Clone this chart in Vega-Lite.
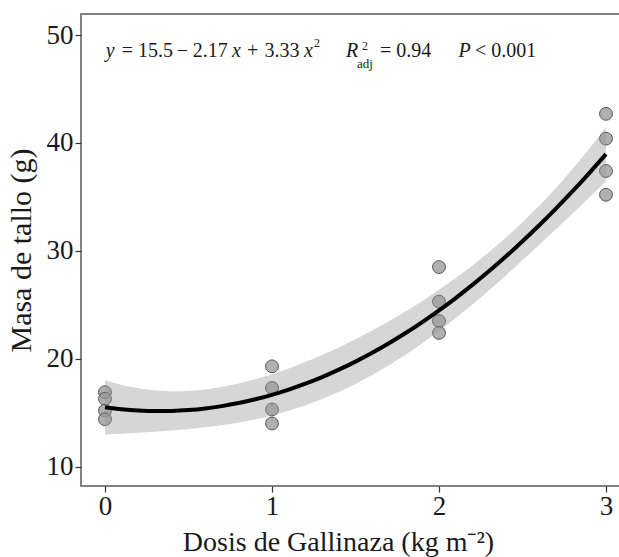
{
  "$schema": "https://vega.github.io/schema/vega-lite/v6.json",
  "autosize": {"type": "none"},
  "padding": {"left": 81, "top": 14, "right": 0, "bottom": 71},
  "width": 540,
  "height": 472,
  "background": "white",
  "config": {
    "font": "Liberation Serif",
    "view": {"stroke": "#595959", "strokeWidth": 1.5},
    "axis": {
      "grid": false,
      "domain": false,
      "tickColor": "#333333",
      "tickWidth": 1.2,
      "tickSize": 6,
      "labelFont": "Liberation Serif",
      "titleFont": "Liberation Serif",
      "labelColor": "#1a1a1a",
      "titleColor": "#1a1a1a",
      "titleFontWeight": "normal"
    }
  },
  "datasets": {
    "pts": [
      {"x": 0, "y": 16.9}, {"x": 0, "y": 16.3}, {"x": 0, "y": 15.2}, {"x": 0, "y": 14.4},
      {"x": 1, "y": 19.3}, {"x": 1, "y": 17.3}, {"x": 1, "y": 15.3}, {"x": 1, "y": 14.0},
      {"x": 2, "y": 28.5}, {"x": 2, "y": 25.3}, {"x": 2, "y": 23.5}, {"x": 2, "y": 22.4},
      {"x": 3, "y": 42.7}, {"x": 3, "y": 40.4}, {"x": 3, "y": 37.4}, {"x": 3, "y": 35.2}
    ],
    "fit": [
      {"x": 0.0, "fit": 15.5, "lo": 12.985, "hi": 18.015},
      {"x": 0.1, "fit": 15.316, "lo": 13.054, "hi": 17.578},
      {"x": 0.2, "fit": 15.199, "lo": 13.14, "hi": 17.258},
      {"x": 0.3, "fit": 15.149, "lo": 13.24, "hi": 17.058},
      {"x": 0.4, "fit": 15.165, "lo": 13.354, "hi": 16.976},
      {"x": 0.5, "fit": 15.248, "lo": 13.487, "hi": 17.009},
      {"x": 0.6, "fit": 15.397, "lo": 13.646, "hi": 17.148},
      {"x": 0.7, "fit": 15.613, "lo": 13.841, "hi": 17.385},
      {"x": 0.8, "fit": 15.895, "lo": 14.084, "hi": 17.706},
      {"x": 0.9, "fit": 16.244, "lo": 14.383, "hi": 18.105},
      {"x": 1.0, "fit": 16.66, "lo": 14.746, "hi": 18.574},
      {"x": 1.1, "fit": 17.142, "lo": 15.178, "hi": 19.106},
      {"x": 1.2, "fit": 17.691, "lo": 15.684, "hi": 19.698},
      {"x": 1.3, "fit": 18.307, "lo": 16.268, "hi": 20.346},
      {"x": 1.4, "fit": 18.989, "lo": 16.93, "hi": 21.048},
      {"x": 1.5, "fit": 19.738, "lo": 17.672, "hi": 21.804},
      {"x": 1.6, "fit": 20.553, "lo": 18.494, "hi": 22.612},
      {"x": 1.7, "fit": 21.435, "lo": 19.396, "hi": 23.474},
      {"x": 1.8, "fit": 22.383, "lo": 20.376, "hi": 24.39},
      {"x": 1.9, "fit": 23.398, "lo": 21.434, "hi": 25.362},
      {"x": 2.0, "fit": 24.48, "lo": 22.566, "hi": 26.394},
      {"x": 2.1, "fit": 25.628, "lo": 23.767, "hi": 27.489},
      {"x": 2.2, "fit": 26.843, "lo": 25.032, "hi": 28.654},
      {"x": 2.3, "fit": 28.125, "lo": 26.353, "hi": 29.897},
      {"x": 2.4, "fit": 29.473, "lo": 27.722, "hi": 31.224},
      {"x": 2.5, "fit": 30.888, "lo": 29.127, "hi": 32.649},
      {"x": 2.6, "fit": 32.369, "lo": 30.558, "hi": 34.18},
      {"x": 2.7, "fit": 33.917, "lo": 32.008, "hi": 35.826},
      {"x": 2.8, "fit": 35.531, "lo": 33.472, "hi": 37.59},
      {"x": 2.9, "fit": 37.212, "lo": 34.95, "hi": 39.474},
      {"x": 3.0, "fit": 38.96, "lo": 36.445, "hi": 41.475}
    ]
  },
  "layer": [
    {
      "data": {"name": "pts"},
      "mark": {"type": "point", "filled": true, "fill": "#959595", "fillOpacity": 0.75, "stroke": "#555555", "strokeWidth": 1, "strokeOpacity": 1, "size": 165},
      "encoding": {
        "x": {"field": "x", "type": "quantitative",
              "scale": {"domain": [-0.1437, 3.0898], "nice": false, "zero": false},
              "axis": {"values": [0, 1, 2, 3], "format": "d", "labelFontSize": 27, "labelPadding": 1,
                       "title": "Dosis de Gallinaza (kg m⁻²)", "titleFontSize": 28, "titlePadding": 9, "titleX": 257}},
        "y": {"field": "y", "type": "quantitative",
              "scale": {"domain": [8.21, 51.95], "nice": false, "zero": false},
              "axis": {"values": [10, 20, 30, 40, 50], "labelFontSize": 27, "labelPadding": 2,
                       "title": "Masa de tallo (g)", "titleFontSize": 30, "titlePadding": 10}}
      }
    },
    {
      "data": {"name": "fit"},
      "mark": {"type": "area", "color": "#999999", "opacity": 0.4},
      "encoding": {
        "x": {"field": "x", "type": "quantitative"},
        "y": {"field": "lo", "type": "quantitative"},
        "y2": {"field": "hi"}
      }
    },
    {
      "data": {"name": "fit"},
      "mark": {"type": "line", "color": "#000000", "strokeWidth": 4, "interpolate": "monotone"},
      "encoding": {
        "x": {"field": "x", "type": "quantitative"},
        "y": {"field": "fit", "type": "quantitative"}
      }
    },
    {"data": {"values": [{}]}, "mark": {"type": "text", "text": "y", "fontStyle": "italic", "fontSize": 20, "align": "left", "baseline": "alphabetic", "color": "#1a1a1a"},
     "encoding": {"x": {"datum": 0.004}, "y": {"datum": 47.99}}},
    {"data": {"values": [{}]}, "mark": {"type": "text", "text": "=", "fontSize": 20, "align": "left", "baseline": "alphabetic", "color": "#1a1a1a"},
     "encoding": {"x": {"datum": 0.1}, "y": {"datum": 47.99}}},
    {"data": {"values": [{}]}, "mark": {"type": "text", "text": "15.5", "fontSize": 20, "align": "left", "baseline": "alphabetic", "color": "#1a1a1a"},
     "encoding": {"x": {"datum": 0.198}, "y": {"datum": 47.99}}},
    {"data": {"values": [{}]}, "mark": {"type": "text", "text": "−", "fontSize": 20, "align": "left", "baseline": "alphabetic", "color": "#1a1a1a"},
     "encoding": {"x": {"datum": 0.43}, "y": {"datum": 47.99}}},
    {"data": {"values": [{}]}, "mark": {"type": "text", "text": "2.17", "fontSize": 20, "align": "left", "baseline": "alphabetic", "color": "#1a1a1a"},
     "encoding": {"x": {"datum": 0.526}, "y": {"datum": 47.99}}},
    {"data": {"values": [{}]}, "mark": {"type": "text", "text": "x", "fontStyle": "italic", "fontSize": 20, "align": "left", "baseline": "alphabetic", "color": "#1a1a1a"},
     "encoding": {"x": {"datum": 0.76}, "y": {"datum": 47.99}}},
    {"data": {"values": [{}]}, "mark": {"type": "text", "text": "+", "fontSize": 20, "align": "left", "baseline": "alphabetic", "color": "#1a1a1a"},
     "encoding": {"x": {"datum": 0.85}, "y": {"datum": 47.99}}},
    {"data": {"values": [{}]}, "mark": {"type": "text", "text": "3.33", "fontSize": 20, "align": "left", "baseline": "alphabetic", "color": "#1a1a1a"},
     "encoding": {"x": {"datum": 0.955}, "y": {"datum": 47.99}}},
    {"data": {"values": [{}]}, "mark": {"type": "text", "text": "x", "fontStyle": "italic", "fontSize": 20, "align": "left", "baseline": "alphabetic", "color": "#1a1a1a"},
     "encoding": {"x": {"datum": 1.192}, "y": {"datum": 47.99}}},
    {"data": {"values": [{}]}, "mark": {"type": "text", "text": "2", "fontSize": 12, "align": "left", "baseline": "alphabetic", "color": "#1a1a1a"},
     "encoding": {"x": {"datum": 1.251}, "y": {"datum": 48.86}}},
    {"data": {"values": [{}]}, "mark": {"type": "text", "text": "R", "fontStyle": "italic", "fontSize": 20, "align": "left", "baseline": "alphabetic", "color": "#1a1a1a"},
     "encoding": {"x": {"datum": 1.443}, "y": {"datum": 47.99}}},
    {"data": {"values": [{}]}, "mark": {"type": "text", "text": "2", "fontSize": 12, "align": "left", "baseline": "alphabetic", "color": "#1a1a1a"},
     "encoding": {"x": {"datum": 1.539}, "y": {"datum": 48.6}}},
    {"data": {"values": [{}]}, "mark": {"type": "text", "text": "adj", "fontSize": 13, "align": "left", "baseline": "alphabetic", "color": "#1a1a1a"},
     "encoding": {"x": {"datum": 1.509}, "y": {"datum": 46.91}}},
    {"data": {"values": [{}]}, "mark": {"type": "text", "text": "= 0.94", "fontSize": 20, "align": "left", "baseline": "alphabetic", "color": "#1a1a1a"},
     "encoding": {"x": {"datum": 1.647}, "y": {"datum": 47.99}}},
    {"data": {"values": [{}]}, "mark": {"type": "text", "text": "P", "fontStyle": "italic", "fontSize": 20, "align": "left", "baseline": "alphabetic", "color": "#1a1a1a"},
     "encoding": {"x": {"datum": 2.117}, "y": {"datum": 47.99}}},
    {"data": {"values": [{}]}, "mark": {"type": "text", "text": "< 0.001", "fontSize": 20, "align": "left", "baseline": "alphabetic", "color": "#1a1a1a"},
     "encoding": {"x": {"datum": 2.216}, "y": {"datum": 47.99}}}
  ]
}
